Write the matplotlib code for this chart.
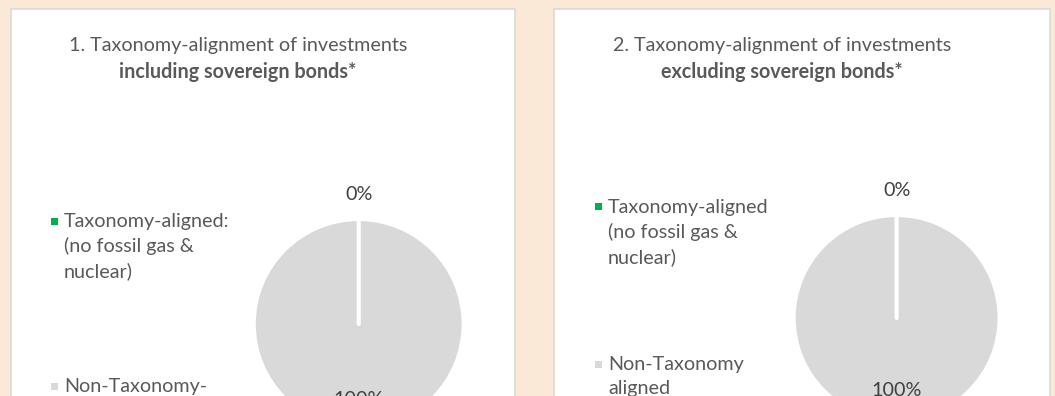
import matplotlib
matplotlib.use("Agg")
import matplotlib.pyplot as plt
from matplotlib.patches import Rectangle
import numpy as np

plt.rcParams['font.family'] = ['Lato', 'DejaVu Sans']

# data
categories = ['Taxonomy-aligned', 'Non-Taxonomy aligned']
incl_values = [0, 100]
excl_values = [0, 100]
incl_labels = ['Taxonomy-aligned:\n(no fossil gas &\nnuclear)', 'Non-Taxonomy-\naligned']
excl_labels = ['Taxonomy-aligned\n(no fossil gas &\nnuclear)', 'Non-Taxonomy\naligned']
titles = ['1. Taxonomy-alignment of investments', '2. Taxonomy-alignment of investments']
subtitles = ['including sovereign bonds*', 'excluding sovereign bonds*']
colors = ['#00B050', '#D9D9D9']

W, H = 1055, 396
bg = '#FBE9D7'
txt = '#595959'
fs = 14.2

fig = plt.figure(figsize=(W / 100, H / 100), dpi=100, facecolor=bg)


def fx(x):
    return x / W


def fy(y):
    return 1 - y / H


panels = [
    dict(box=(11, 9, 515, 460), tx=238, pie=(358.7, 324, 105), lx=54, ly=[221, 386],
         values=incl_values, labels=incl_labels, dist=[1.23, 0.72]),
    dict(box=(554, 9, 1050, 460), tx=782, pie=(896.6, 318, 103), lx=598, ly=[206.6, 364],
         values=excl_values, labels=excl_labels, dist=[1.24, 0.70]),
]

for i, p in enumerate(panels):
    x0, y0, x1, y1 = p['box']
    fig.add_artist(Rectangle((fx(x0), fy(y1)), fx(x1 - x0), (y1 - y0) / H,
                             transform=fig.transFigure, facecolor='white',
                             edgecolor='#D9D9D9', linewidth=1.2, zorder=0))

    fig.text(fx(p['tx']), fy(45.6), titles[i], ha='center', va='center',
             fontsize=fs, color=txt)
    fig.text(fx(p['tx']), fy(72), subtitles[i], ha='center', va='center',
             fontsize=fs, color=txt, fontweight='bold')

    cx, cy, r = p['pie']
    ax = fig.add_axes([fx(cx - r), fy(cy + r), fx(2 * r), 2 * r / H])
    wedges, _ = ax.pie(p['values'], colors=colors, startangle=90, counterclock=False,
                       wedgeprops=dict(edgecolor='white', linewidth=3))
    # the empty slice only shows as its white edge, keep it above the full one
    wedges[0].set_zorder(3)
    wedges[0].set_capstyle('round')
    ax.set_xlim(-1, 1)
    ax.set_ylim(-1, 1)
    for w, v, d in zip(wedges, p['values'], p['dist']):
        ang = np.deg2rad((w.theta1 + w.theta2) / 2)
        ax.text(d * np.cos(ang), d * np.sin(ang), f'{v}%', ha='center', va='center',
                fontsize=fs, color='#404040')

    # legend: square marker next to the first line of each label
    for lab, col, y in zip(p['labels'], colors, p['ly']):
        fig.add_artist(Rectangle((fx(p['lx'] - 3.5), fy(y + 3.5)), fx(7), 7 / H,
                                 transform=fig.transFigure, facecolor=col,
                                 edgecolor='none'))
        fig.text(fx(p['lx'] + 10), fy(y - 8), lab, ha='left', va='top',
                 fontsize=fs, color=txt, linespacing=1.48)

fig.savefig('out.png', dpi=100, facecolor=bg)
